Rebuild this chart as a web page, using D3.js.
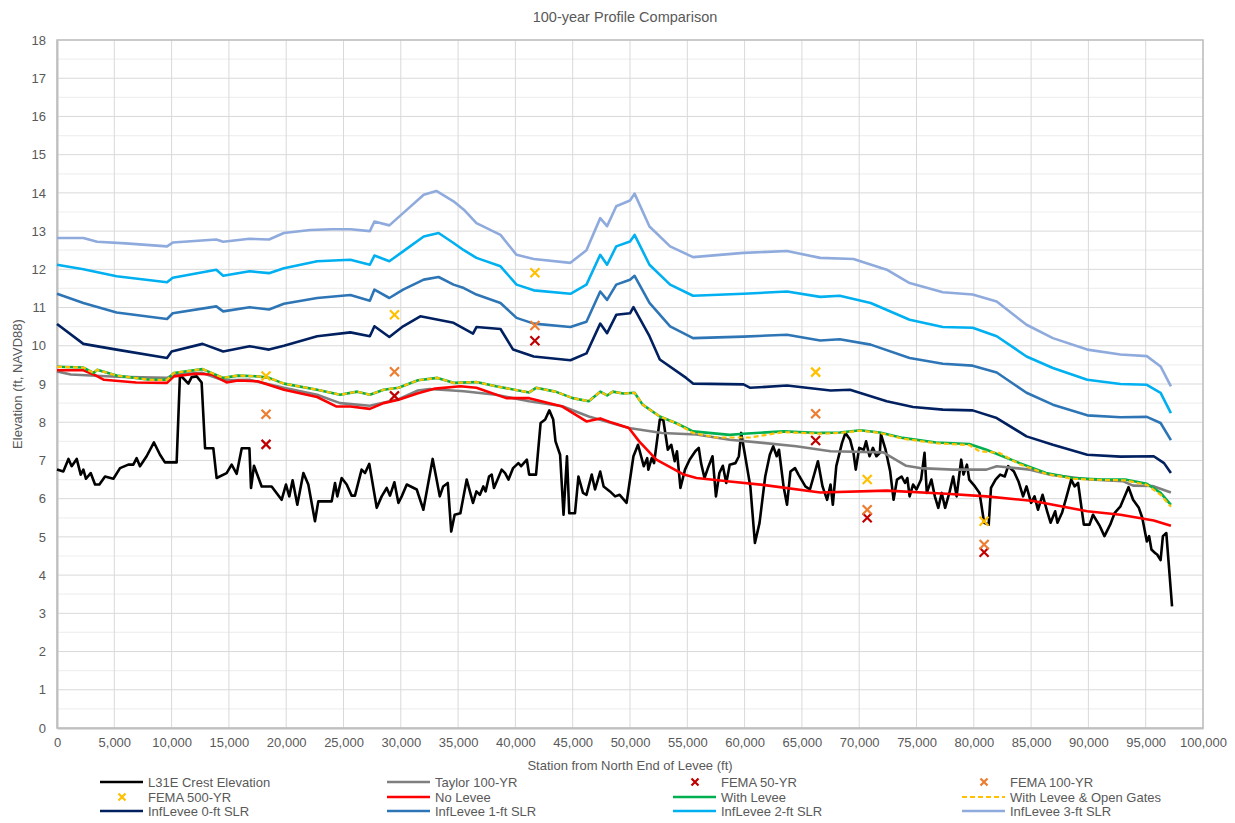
<!DOCTYPE html>
<html>
<head>
<meta charset="utf-8">
<script src="https://cdnjs.cloudflare.com/ajax/libs/d3/7.8.5/d3.min.js"></script>
<style>
  html, body { margin: 0; padding: 0; background: #fff; }
  svg { display: block; font-family: "Liberation Sans", Arial, sans-serif; }
</style>
</head>
<body>
<svg id="chart" width="1235" height="823"></svg>
<script>
// Station (ft) / elevation (ft, NAVD88) pairs for each profile
const crest = [
  [0,6.76],[550,6.71],[1000,7.04],[1280,6.85],[1720,7.04],[2070,6.63],[2300,6.76],[2530,6.52],[2940,6.67],[3320,6.37],
  [3700,6.37],[4190,6.58],[4920,6.52],[5500,6.8],[6220,6.89],[6660,6.89],[6950,7.06],[7240,6.85],[7820,7.11],[8460,7.47],
  [8990,7.15],[9420,6.95],[10440,6.95],[10730,9.24],[11020,9.15],[11460,9.01],[11750,9.18],[12190,9.2],[12620,9.04],[12920,7.32],
  [13640,7.32],[13930,6.54],[14800,6.67],[15240,6.89],[15680,6.65],[16120,7.32],[16790,7.32],[16930,6.28],[17190,6.86],[17860,6.32],
  [18730,6.32],[19600,5.97],[19980,6.37],[20270,6.06],[20560,6.48],[20970,5.84],[21500,6.67],[21930,6.37],[22510,5.41],[22800,5.93],
  [23970,5.93],[24260,6.41],[24460,6.06],[24840,6.54],[25280,6.37],[25710,6.08],[26000,6.08],[26580,6.76],[26880,6.67],[27250,6.91],
  [27900,5.76],[28330,6.06],[28770,6.28],[29060,6.08],[29440,6.43],[29790,5.89],[30080,6.06],[30520,6.37],[31390,6.24],[31970,5.71],
  [32780,7.04],[33100,6.54],[33400,6.06],[33700,6.32],[34100,6.41],[34400,5.14],[34700,5.58],[35200,5.62],[35750,6.5],[36300,5.89],
  [36600,6.19],[36900,6.1],[37200,6.32],[37400,6.19],[37700,6.58],[37930,6.63],[38130,6.28],[38500,6.54],[38800,6.76],[39100,6.67],
  [39400,6.5],[39800,6.8],[40260,6.93],[40500,6.85],[41000,7.02],[41200,6.63],[41800,6.63],[42200,7.98],[42600,8.07],[42960,8.31],
  [43300,8.07],[43500,7.5],[43900,7.15],[44200,5.58],[44500,7.11],[44700,5.62],[45200,5.62],[45500,6.58],[45900,6.15],[46200,6.1],
  [46660,6.63],[46950,6.24],[47400,6.71],[47700,6.32],[48250,6.19],[48700,6.06],[49100,6.1],[49700,5.89],[50300,7.11],[50700,7.41],
  [51200,6.85],[51500,7.06],[51600,6.76],[51900,7.06],[52100,6.93],[52600,8.07],[52900,8.07],[53300,7.28],[53600,7.41],[53900,6.98],
  [54100,7.24],[54400,6.28],[54800,6.76],[55200,7.02],[55700,7.24],[56000,7.33],[56200,6.93],[56500,6.54],[56800,6.8],[57200,7.11],
  [57500,6.06],[57800,6.67],[58100,6.86],[58400,6.41],[58700,6.89],[59200,6.93],[59500,7.11],[59700,7.72],[60000,7.2],[60500,6.32],
  [60900,4.84],[61300,5.36],[61800,6.58],[62200,7.15],[62500,7.37],[62800,7.11],[63000,7.28],[63400,6.32],[63700,5.84],[64000,6.71],
  [64400,6.8],[64700,6.63],[65300,6.32],[65700,6.24],[66400,6.98],[66800,6.32],[67200,5.97],[67500,6.37],[67700,5.84],[68000,6.85],
  [68500,7.46],[68800,7.72],[69200,7.55],[69500,7.2],[69700,6.76],[70000,7.33],[70400,7.28],[70600,7.5],[70900,7.11],[71200,7.33],
  [71500,7.11],[71800,7.2],[71900,7.68],[72300,7.28],[72700,6.72],[73000,5.97],[73300,6.5],[73700,6.58],[74000,6.41],[74200,6.54],
  [74400,6.06],[74700,6.37],[75000,6.24],[75400,6.5],[75700,7.2],[75900,6.15],[76300,6.5],[76600,6.06],[76900,5.76],[77200,6.15],
  [77500,5.76],[77900,6.19],[78200,6.58],[78500,6.06],[78900,7.02],[79100,6.63],[79400,6.89],[79600,6.5],[80100,6.32],[80500,6.15],
  [80900,5.37],[81300,5.32],[81500,6.28],[81900,6.5],[82300,6.63],[82700,6.58],[83000,6.85],[83500,6.71],[83900,6.45],[84300,6.06],
  [84600,6.32],[85000,5.89],[85300,6.06],[85600,5.71],[86000,6.1],[86400,5.67],[86700,5.37],[87100,5.67],[87300,5.37],[87700,5.63],
  [88100,6.06],[88500,6.5],[88800,6.32],[89100,6.41],[89600,5.32],[90100,5.32],[90400,5.58],[91000,5.28],[91400,5.02],[91900,5.32],
  [92300,5.63],[92800,5.8],[93500,6.3],[93900,5.97],[94400,5.76],[94700,5.5],[95100,4.88],[95300,5.02],[95500,4.67],[95800,4.58],
  [96000,4.54],[96300,4.39],[96500,5.02],[96800,5.1],[97300,3.18]
];

const taylor = [
  [0,9.33],[1200,9.25],[5200,9.19],[9600,9.16],[10200,9.25],[12700,9.29],[14500,9.1],[16800,9.11],[19800,8.9],[22700,8.72],
  [24700,8.5],[27300,8.43],[29800,8.6],[31500,8.83],[32500,8.87],[35500,8.81],[38300,8.72],[41200,8.55],[44100,8.42],[46400,8.15],
  [49900,7.85],[52800,7.72],[55800,7.68],[58700,7.54],[61600,7.46],[64500,7.37],[67500,7.24],[72100,7.21],[74100,6.86],[75300,6.8],
  [78200,6.76],[81100,6.76],[82000,6.85],[84900,6.76],[86600,6.63],[90100,6.5],[93000,6.46],[93900,6.34],[95600,6.33],[97200,6.16]
];

const noLevee = [
  [0,9.36],[2300,9.36],[3200,9.25],[4100,9.11],[6900,9.04],[9600,9.03],[10200,9.2],[12100,9.27],[13500,9.25],[14800,9.04],
  [15800,9.09],[17500,9.07],[19800,8.85],[22700,8.66],[24400,8.41],[25600,8.41],[27300,8.35],[28500,8.5],[29800,8.59],[31500,8.76],
  [33000,8.88],[35200,8.94],[36600,8.9],[39200,8.63],[41200,8.63],[44100,8.41],[46200,8.02],[47400,8.1],[48400,7.99],[49900,7.85],
  [50800,7.5],[52300,7.02],[54700,6.63],[55800,6.54],[58700,6.45],[61600,6.36],[66600,6.16],[72400,6.21],[77600,6.13],[81100,6.06],
  [85200,5.94],[89900,5.67],[92800,5.58],[95700,5.43],[97200,5.29]
];

const withLevee = [
  [0,9.45],[2300,9.43],[3200,9.29],[3500,9.37],[5200,9.22],[8100,9.11],[9600,9.11],[10200,9.29],[12700,9.39],[14500,9.16],
  [15800,9.22],[17500,9.2],[18500,9.16],[19800,9.01],[22700,8.85],[24700,8.72],[26200,8.8],[27300,8.72],[28500,8.85],[29800,8.9],
  [31500,9.1],[33200,9.16],[34600,9.03],[36600,9.05],[38300,8.94],[41200,8.78],[41800,8.9],[43500,8.8],[45000,8.63],[46400,8.55],
  [47400,8.8],[48000,8.7],[48500,8.8],[49400,8.75],[50400,8.77],[51100,8.46],[52600,8.15],[54000,7.98],[55500,7.76],[58700,7.67],
  [59900,7.7],[63400,7.76],[66600,7.72],[68300,7.73],[70100,7.79],[71800,7.73],[73800,7.59],[76700,7.47],[79600,7.43],[81100,7.28],
  [84000,6.93],[86300,6.67],[88600,6.54],[91200,6.5],[93200,6.5],[95100,6.39],[96300,6.15],[97200,5.84]
];

const openGates = [
  [0,9.45],[2300,9.43],[3200,9.29],[3500,9.37],[5200,9.22],[8100,9.11],[9600,9.11],[10200,9.29],[12700,9.39],[14500,9.16],
  [15800,9.22],[17500,9.2],[18500,9.16],[19800,9.01],[22700,8.85],[24700,8.72],[26200,8.8],[27300,8.72],[28500,8.85],[29800,8.9],
  [31500,9.1],[33200,9.16],[34600,9.03],[36600,9.05],[38300,8.94],[41200,8.78],[41800,8.9],[43500,8.8],[45000,8.63],[46400,8.55],
  [47400,8.8],[48000,8.7],[48500,8.8],[49400,8.75],[50400,8.77],[51100,8.46],[52600,8.15],[54000,7.98],[55500,7.72],[57500,7.6],
  [60500,7.6],[62500,7.7],[63400,7.74],[66600,7.7],[68300,7.72],[70100,7.78],[71800,7.72],[73800,7.57],[76700,7.45],[79600,7.4],
  [80500,7.24],[82200,7.2],[84000,6.9],[86300,6.65],[88600,6.52],[91200,6.49],[93200,6.48],[95100,6.36],[96300,6.1],[97200,5.79]
];

const inf0 = [
  [0,10.57],[2300,10.05],[5200,9.9],[9600,9.68],[10000,9.85],[12700,10.05],[14500,9.85],[16800,9.99],[18500,9.9],[19800,10.0],
  [22700,10.25],[25600,10.35],[27300,10.25],[27700,10.51],[29000,10.23],[30200,10.51],[31700,10.77],[34600,10.6],[36300,10.32],[36600,10.49],
  [38700,10.44],[39800,9.9],[41600,9.72],[44800,9.62],[46200,9.8],[47400,10.58],[48000,10.33],[48800,10.81],[50000,10.85],[50300,11.01],
  [51700,10.25],[52600,9.64],[54900,9.16],[55500,9.01],[59900,8.99],[60500,8.9],[63700,8.96],[67500,8.83],[69200,8.85],[72400,8.55],
  [74700,8.4],[77300,8.33],[79900,8.31],[82000,8.11],[84600,7.63],[86900,7.41],[89900,7.15],[92800,7.1],[95700,7.11],[96600,6.93],
  [97200,6.67]
];

const inf1 = [
  [0,11.36],[2300,11.12],[5200,10.87],[9600,10.7],[10100,10.85],[13900,11.03],[14500,10.9],[16800,11.01],[18500,10.95],[19800,11.1],
  [22700,11.25],[25600,11.33],[27300,11.18],[27700,11.47],[29000,11.25],[30200,11.47],[32000,11.73],[33300,11.8],[34600,11.6],[35500,11.51],
  [36600,11.34],[38700,11.12],[40100,10.73],[41600,10.58],[44800,10.49],[46200,10.63],[47400,11.42],[48000,11.2],[48800,11.6],[50000,11.73],
  [50400,11.83],[51700,11.12],[53500,10.51],[55500,10.2],[59900,10.24],[63700,10.29],[66600,10.14],[68300,10.17],[71000,10.03],[74400,9.68],
  [77300,9.53],[79900,9.48],[82000,9.3],[84600,8.77],[86900,8.46],[89900,8.18],[92800,8.13],[95100,8.14],[96300,7.98],[97200,7.53]
];

const inf2 = [
  [0,12.12],[2300,12.0],[5200,11.82],[9600,11.66],[10100,11.78],[13900,11.99],[14500,11.83],[16800,11.95],[18500,11.9],[19800,12.03],
  [22700,12.21],[25600,12.25],[27300,12.12],[27700,12.36],[29000,12.21],[30200,12.47],[32000,12.86],[33300,12.95],[34600,12.69],[35500,12.5],
  [36600,12.3],[38700,12.08],[40100,11.6],[41600,11.45],[44800,11.36],[46200,11.6],[47400,12.38],[48000,12.12],[48800,12.6],[50000,12.73],
  [50400,12.9],[51700,12.12],[53500,11.6],[55500,11.31],[59900,11.36],[63700,11.42],[66600,11.28],[68300,11.31],[71000,11.12],[74400,10.68],
  [77300,10.49],[79900,10.47],[82000,10.25],[84600,9.72],[86900,9.42],[89900,9.11],[92800,9.0],[95100,8.98],[96300,8.77],[97200,8.24]
];

const inf3 = [
  [0,12.82],[2300,12.82],[3500,12.72],[6000,12.68],[9600,12.6],[10100,12.7],[13900,12.78],[14500,12.72],[16800,12.8],[18500,12.78],
  [19800,12.95],[22100,13.03],[24000,13.05],[25600,13.05],[27300,13.0],[27700,13.25],[29000,13.15],[30200,13.47],[32000,13.95],[33100,14.05],
  [34600,13.78],[35500,13.56],[36600,13.21],[38700,12.9],[40100,12.38],[41600,12.27],[44800,12.17],[46200,12.5],[47400,13.34],[48000,13.13],
  [48800,13.65],[50000,13.8],[50400,13.98],[51700,13.12],[53500,12.6],[55500,12.32],[59900,12.43],[63700,12.48],[66600,12.3],[69500,12.27],
  [72400,11.99],[74400,11.64],[77300,11.4],[79900,11.34],[82000,11.16],[84600,10.55],[86900,10.2],[89900,9.9],[92800,9.77],[95100,9.73],
  [96300,9.46],[97200,8.94]
];

// FEMA flood elevations at gauge stations
const fema50 = [[18240,7.42],[29450,8.69],[41700,10.13],[66200,7.52],[70700,5.5],[80900,4.6]];
const fema100 = [[18240,8.21],[29450,9.32],[41700,10.53],[66200,8.22],[70700,5.71],[80900,4.8]];
const fema500 = [[18240,9.21],[29450,10.81],[41700,11.91],[66200,9.31],[70700,6.5],[80900,5.41]];

const xTicks = d3.range(0, 100001, 5000);
const yTicks = d3.range(0, 19, 1);

const lineSeries = [
  { name: "L31E Crest Elevation", data: crest, color: "#000000", width: 2.6 },
  { name: "Taylor 100-YR", data: taylor, color: "#7f7f7f", width: 2.6 },
  { name: "No Levee", data: noLevee, color: "#ff0000", width: 2.6 },
  { name: "With Levee", data: withLevee, color: "#00b050", width: 2.6 },
  { name: "With Levee & Open Gates", data: openGates, color: "#ffc000", width: 2.2, dash: "5,3" },
  { name: "InfLevee 0-ft SLR", data: inf0, color: "#002060", width: 2.6 },
  { name: "InfLevee 1-ft SLR", data: inf1, color: "#2e75b6", width: 2.6 },
  { name: "InfLevee 2-ft SLR", data: inf2, color: "#00b0f0", width: 2.6 },
  { name: "InfLevee 3-ft SLR", data: inf3, color: "#8faadc", width: 2.6 }
];
const markerSeries = [
  { name: "FEMA 50-YR", data: fema50, color: "#c00000" },
  { name: "FEMA 100-YR", data: fema100, color: "#ed7d31" },
  { name: "FEMA 500-YR", data: fema500, color: "#ffc000" }
];

const svg = d3.select("#chart");
const plotBox = { left: 57, top: 40, right: 1203, bottom: 728 };
const x = d3.scaleLinear().domain([0, 100000]).range([plotBox.left, plotBox.right]);
const y = d3.scaleLinear().domain([0, 18]).range([plotBox.bottom, plotBox.top]);
const textColor = "#595959";

// Minor horizontal gridlines every 0.5 ft
svg.append("g").selectAll("line")
  .data(d3.range(0.5, 18, 1))
  .join("line")
  .attr("x1", plotBox.left).attr("x2", plotBox.right)
  .attr("y1", d => y(d)).attr("y2", d => y(d))
  .attr("stroke", "#f0f0f0").attr("stroke-width", 1.2);

// Major gridlines
svg.append("g").selectAll("line")
  .data(yTicks.slice(1))
  .join("line")
  .attr("x1", plotBox.left).attr("x2", plotBox.right)
  .attr("y1", d => y(d)).attr("y2", d => y(d))
  .attr("stroke", "#d9d9d9").attr("stroke-width", 1);
svg.append("g").selectAll("line")
  .data(xTicks.slice(1))
  .join("line")
  .attr("x1", d => x(d)).attr("x2", d => x(d))
  .attr("y1", plotBox.top).attr("y2", plotBox.bottom)
  .attr("stroke", "#d9d9d9").attr("stroke-width", 1);

// Plot frame
svg.append("rect")
  .attr("x", plotBox.left).attr("y", plotBox.top)
  .attr("width", plotBox.right - plotBox.left).attr("height", plotBox.bottom - plotBox.top)
  .attr("fill", "none").attr("stroke", "#bfbfbf").attr("stroke-width", 1.5);

// Axes
const xAxis = d3.axisBottom(x).tickValues(xTicks).tickSize(0).tickPadding(10)
  .tickFormat(d3.format(",d"));
const gx = svg.append("g").attr("transform", `translate(0,${plotBox.bottom})`).call(xAxis);
gx.select(".domain").attr("stroke", "#bfbfbf").attr("stroke-width", 2);
gx.selectAll("text").attr("fill", textColor).attr("font-size", 13)
  .attr("font-family", "Liberation Sans, Arial, sans-serif");

const yAxis = d3.axisLeft(y).tickValues(yTicks).tickSize(0).tickPadding(11)
  .tickFormat(d3.format("d"));
const gy = svg.append("g").attr("transform", `translate(${plotBox.left},0)`).call(yAxis);
gy.select(".domain").attr("stroke", "#bfbfbf").attr("stroke-width", 2);
gy.selectAll("text").attr("fill", textColor).attr("font-size", 13)
  .attr("font-family", "Liberation Sans, Arial, sans-serif");

// Titles
svg.append("text").attr("x", 625).attr("y", 22).attr("text-anchor", "middle")
  .attr("fill", textColor).attr("font-size", 14.5).text("100-year Profile Comparison");
svg.append("text").attr("x", 630).attr("y", 770).attr("text-anchor", "middle")
  .attr("fill", textColor).attr("font-size", 13).text("Station from North End of Levee (ft)");
svg.append("text").attr("transform", "translate(22,384) rotate(-90)")
  .attr("text-anchor", "middle").attr("fill", textColor).attr("font-size", 13)
  .text("Elevation (ft, NAVD88)");

// Profile lines
const line = d3.line().x(d => x(d[0])).y(d => y(d[1]));
const plot = svg.append("g");
lineSeries.forEach(s => {
  plot.append("path")
    .datum(s.data)
    .attr("d", line)
    .attr("fill", "none")
    .attr("stroke", s.color)
    .attr("stroke-width", s.width)
    .attr("stroke-linejoin", "round")
    .attr("stroke-dasharray", s.dash || null);
});

// Cross markers
function cross(g, cx, cy, color, r) {
  g.append("path")
    .attr("d", `M${cx - r},${cy - r}L${cx + r},${cy + r}M${cx - r},${cy + r}L${cx + r},${cy - r}`)
    .attr("stroke", color).attr("stroke-width", 2.2).attr("fill", "none");
}
markerSeries.forEach(s => {
  s.data.forEach(d => cross(plot, x(d[0]), y(d[1]), s.color, 4.5));
});

// Legend: 4 columns x 3 rows
const legendOrder = [
  "L31E Crest Elevation", "Taylor 100-YR", "FEMA 50-YR", "FEMA 100-YR",
  "FEMA 500-YR", "No Levee", "With Levee", "With Levee & Open Gates",
  "InfLevee 0-ft SLR", "InfLevee 1-ft SLR", "InfLevee 2-ft SLR", "InfLevee 3-ft SLR"
];
const colX = [100, 387, 673, 962];
const rowY = [782, 797, 811];
const legend = svg.append("g");
legendOrder.forEach((name, i) => {
  const cx = colX[i % 4], cy = rowY[Math.floor(i / 4)];
  const ls = lineSeries.find(s => s.name === name);
  const ms = markerSeries.find(s => s.name === name);
  if (ls) {
    legend.append("line")
      .attr("x1", cx).attr("x2", cx + 43).attr("y1", cy).attr("y2", cy)
      .attr("stroke", ls.color).attr("stroke-width", ls.width)
      .attr("stroke-dasharray", ls.dash || null);
  } else if (ms) {
    cross(legend, cx + 22, cy, ms.color, 3.5);
  }
  legend.append("text")
    .attr("x", cx + 48).attr("y", cy + 4.5)
    .attr("fill", textColor).attr("font-size", 13)
    .text(name);
});
</script>
</body>
</html>
